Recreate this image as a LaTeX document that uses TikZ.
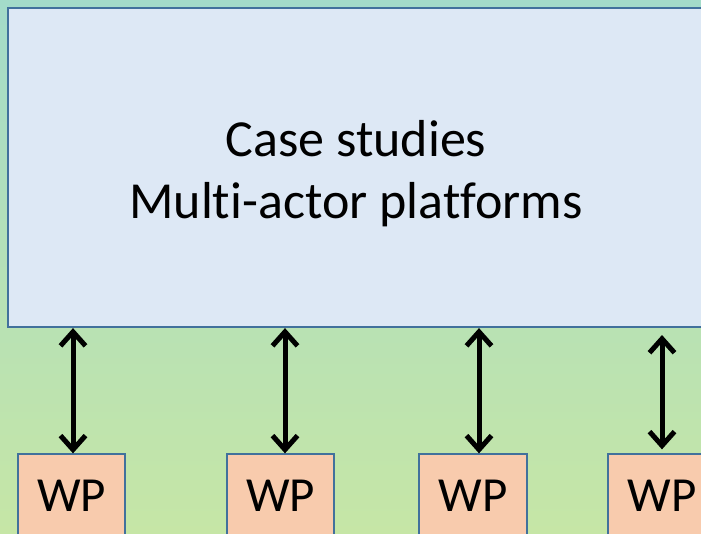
\documentclass[tikz,border=0pt]{standalone}
\usepackage{fontspec}
\setmainfont{Carlito}[Ligatures=NoCommon]
\usetikzlibrary{arrows.meta}
\definecolor{bgtop}{HTML}{A3DBC9}
\definecolor{bgbot}{HTML}{C6E6A6}
\definecolor{boxfill}{HTML}{DDE8F5}
\definecolor{boxline}{HTML}{41719C}
\definecolor{wpfill}{HTML}{F8CBAD}
\tikzset{
  mainbox/.style={draw=boxline, line width=2.2pt, fill=boxfill, inner sep=0pt},
  title/.style={align=center, inner sep=0pt, font=\fontsize{52}{62}\selectfont},
  wpbox/.style={draw=boxline, line width=1.3pt, fill=wpfill, inner sep=0pt,
    minimum height=83pt, text height=31pt, text depth=0pt,
    font=\fontsize{49}{50}\selectfont},
  link/.style={line width=5pt, {Straight Barb[length=14pt,width=25pt]}-{Straight Barb[length=14pt,width=25pt]}}
}
\begin{document}
\begin{tikzpicture}[x=1pt,y=-1pt]
  \useasboundingbox (0,0) rectangle (701,533);
  \shade[top color=bgtop, bottom color=bgbot] (0,0) rectangle (701,533);
  \node[mainbox, minimum width=696pt, minimum height=319pt] (main) at (356,167.5) {};
  % base anchor sits on the last line's baseline
  \node[title, anchor=base] (label) at (356,218) {Case studies\\Multi-actor platforms};
  \node[wpbox, minimum width=107pt] (wp1) at (71.5,495.5) {WP};
  \node[wpbox, minimum width=107pt] (wp2) at (280.5,495.5) {WP};
  \node[wpbox, minimum width=108pt] (wp3) at (473,495.5) {WP};
  \node[wpbox, minimum width=108pt] (wp4) at (662,495.5) {WP};
  \coordinate (a1) at (73,0);
  \coordinate (a2) at (285,0);
  \coordinate (a3) at (479,0);
  \coordinate (a4) at (662,0);
  \coordinate (a4top) at (662,335);
  \draw[link] (a1 |- main.south) -- (a1 |- wp1.north);
  \draw[link] (a2 |- main.south) -- (a2 |- wp2.north);
  \draw[link] (a3 |- main.south) -- (a3 |- wp3.north);
  \draw[link] (a4top) -- ([yshift=4pt]a4 |- wp4.north);
\end{tikzpicture}
\end{document}
